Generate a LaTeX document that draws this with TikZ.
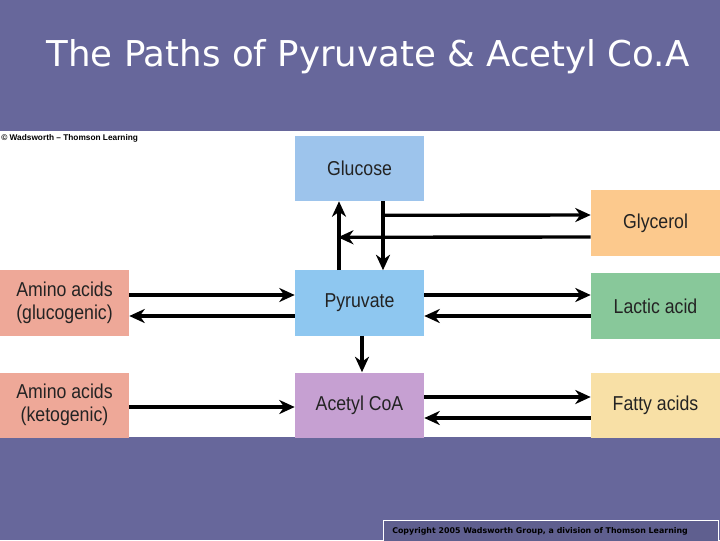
\documentclass[tikz,border=0pt]{standalone}
\usepackage{fontspec}
\setmainfont{Liberation Sans}
\newfontfamily\boxfont[FakeStretch=0.88]{Liberation Sans}
\newfontfamily\titlefont{DejaVu Sans}
\usetikzlibrary{arrows.meta,calc}
\definecolor{bgpurple}{RGB}{103,103,155}
\definecolor{glcblue}{RGB}{157,196,236}
\definecolor{pyrblue}{RGB}{142,199,240}
\definecolor{glyorange}{RGB}{252,201,141}
\definecolor{aminored}{RGB}{238,168,152}
\definecolor{lacgreen}{RGB}{136,200,154}
\definecolor{acopurple}{RGB}{198,160,210}
\definecolor{fatyellow}{RGB}{248,224,166}
\definecolor{boxtext}{RGB}{35,35,35}
\tikzset{
  metab/.style={minimum width=3.225cm,minimum height=1.625cm,inner sep=0pt,
    font=\boxfont\fontsize{14.3}{16.5}\selectfont,text=boxtext,align=center},
  path/.style={line width=2.4pt,-{Stealth[length=11pt,width=10pt,inset=3.5pt]}}
}
\begin{document}
\begin{tikzpicture}[x=0.025cm,y=-0.025cm]
    % background and title
    \fill[bgpurple] (0,0) rectangle (720,540);
    \useasboundingbox (0,0) rectangle (720,540);
    \fill[white] (0,131) rectangle (720,437);
    \node[text=white,font=\titlefont\fontsize{25.3}{28}\selectfont] (title) at (368,57)
      {The Paths of Pyruvate \& Acetyl Co.A};
    \node[font=\bfseries\fontsize{5.9}{7}\selectfont,anchor=west,inner sep=0pt] (wads) at (1,138)
      {© Wadsworth – Thomson Learning};
    % metabolites
    \node[metab,fill=glcblue]   (glc) at (359.5,168.5) {Glucose};
    \node[metab,fill=glyorange] (gly) at (655.5,223)   {Glycerol};
    \node[metab,fill=aminored]  (amg) at (64.5,303)    {Amino acids\\(glucogenic)};
    \node[metab,fill=pyrblue]   (pyr) at (359.5,303)   {Pyruvate};
    \node[metab,fill=lacgreen]  (lac) at (655.5,306)   {Lactic acid};
    \node[metab,fill=aminored]  (amk) at (64.5,405)    {Amino acids\\(ketogenic)};
    \node[metab,fill=acopurple] (aco) at (359.5,405)   {Acetyl CoA};
    \node[metab,fill=fatyellow] (fat) at (655.5,405)   {Fatty acids};
    % glucose <-> pyruvate, glycerol
    \draw[path] ($(pyr.north)+(-20.5,0)$) -- ($(glc.south)+(-20.5,0)$);
    \draw[path] ($(glc.south)+(23.5,0)$) -- ($(pyr.north)+(23.5,0)$);
    \draw[path] ($(glc.south)+(22.5,14)$) -- ($(gly.west)+(0,-8)$);
    \draw[path] ($(gly.west)+(0,14)$) -- ($(glc.south)+(-21.5,36)$);
    % pyruvate <-> amino acids, lactic acid
    \draw[path] ($(amg.east)+(0,-8)$) -- ($(pyr.west)+(0,-8)$);
    \draw[path] ($(pyr.west)+(0,13)$) -- ($(amg.east)+(0,13)$);
    \draw[path] ($(pyr.east)+(0,-8)$) -- ($(lac.west)+(0,-11)$);
    \draw[path] ($(lac.west)+(0,10)$) -- ($(pyr.east)+(0,13)$);
    % acetyl CoA
    \draw[path] ($(pyr.south)+(2.5,0)$) -- ($(aco.north)+(2.5,0)$);
    \draw[path] ($(amk.east)+(0,2)$) -- ($(aco.west)+(0,2)$);
    \draw[path] ($(aco.east)+(0,-8)$) -- ($(fat.west)+(0,-8)$);
    \draw[path] ($(fat.west)+(0,13)$) -- ($(aco.east)+(0,13)$);
    % copyright strip
    \draw[white,thin,fill=bgpurple!92!black] (383,520) rectangle (718,541);
    \node[font=\titlefont\bfseries\fontsize{5.6}{6}\selectfont,anchor=west,inner sep=0pt] (copy) at (392,531)
      {Copyright 2005 Wadsworth Group, a division of Thomson Learning};
\end{tikzpicture}
\end{document}
